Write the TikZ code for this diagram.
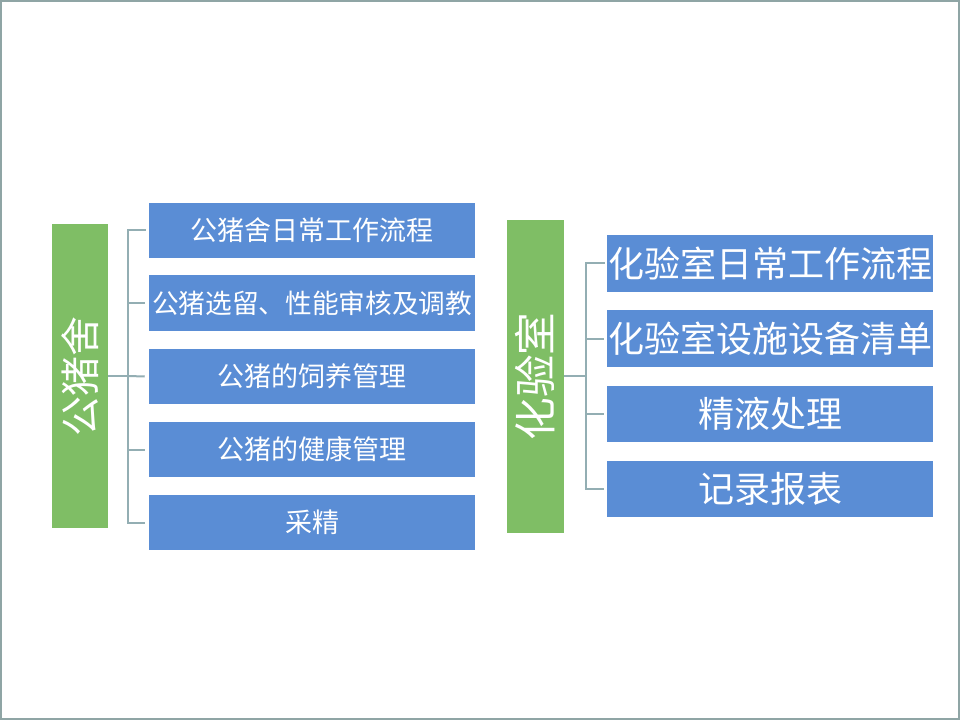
\documentclass[tikz,border=0pt]{standalone}
\usepackage{fontspec}
\newfontfamily\cjk{Noto Sans CJK SC}
\definecolor{boxblue}{HTML}{5A8DD5}
\definecolor{boxgreen}{HTML}{7FBE65}
\definecolor{linegray}{HTML}{93AEB3}
\definecolor{framegray}{HTML}{8FA5A5}
\begin{document}
\begin{tikzpicture}[x=0.75pt,y=-0.75pt,
  bluebox/.style={fill=boxblue,draw=none,inner sep=0pt,text=white,font=\cjk},
  greenbox/.style={fill=boxgreen,draw=none,inner sep=0pt,text=white,font=\cjk},
  conn/.style={draw=linegray,line width=1.5pt}]
\useasboundingbox (0,0) rectangle (960,720);
\draw[framegray,line width=1.5pt] (0.75,0.75) rectangle (959.25,719.25);
% left group
\node[greenbox,minimum width=42pt,minimum height=228pt] (g1) at (80,376) {\rotatebox{90}{\fontsize{30pt}{30pt}\selectfont 公猪舍}};
\node[bluebox,minimum width=244.5pt,minimum height=41.25pt] (l1) at (312,230.5) {\fontsize{20.25pt}{22pt}\selectfont 公猪舍日常工作流程};
\node[bluebox,minimum width=244.5pt,minimum height=41.25pt] (l2) at (312,303) {\makebox[240pt]{\fontsize{20pt}{22pt}\selectfont 公猪选留、性能审核及调教}};
\node[bluebox,minimum width=244.5pt,minimum height=41.25pt] (l3) at (312,376.5) {\fontsize{20.25pt}{22pt}\selectfont 公猪的饲养管理};
\node[bluebox,minimum width=244.5pt,minimum height=41.25pt] (l4) at (312,449.5) {\fontsize{20.25pt}{22pt}\selectfont 公猪的健康管理};
\node[bluebox,minimum width=244.5pt,minimum height=41.25pt] (l5) at (312,522.5) {\fontsize{20.25pt}{22pt}\selectfont 采精};
\coordinate (lt) at (128,376);
\draw[conn] (g1.east) -- (lt);
\draw[conn] (l1.west) ++(-3,0) -| (lt) |- ([xshift=-3]l5.west);
\draw[conn] (lt) |- ([xshift=-3]l2.west);
\draw[conn] (lt) |- ([xshift=-3]l4.west);
\draw[conn] (lt) -- ([xshift=-3]l3.west);
% right group
\node[greenbox,minimum width=42.75pt,minimum height=234.75pt] (g2) at (535.5,376.5) {\rotatebox{90}{\fontsize{32pt}{32pt}\selectfont 化验室}};
\node[bluebox,minimum width=244.5pt,minimum height=42.75pt] (r1) at (770,263.5) {\fontsize{27pt}{28pt}\selectfont 化验室日常工作流程};
\node[bluebox,minimum width=244.5pt,minimum height=42.75pt] (r2) at (770,338.5) {\fontsize{27pt}{28pt}\selectfont 化验室设施设备清单};
\node[bluebox,minimum width=244.5pt,minimum height=42pt] (r3) at (770,414) {\fontsize{27pt}{28pt}\selectfont 精液处理};
\node[bluebox,minimum width=244.5pt,minimum height=42pt] (r4) at (770,489) {\fontsize{27pt}{28pt}\selectfont 记录报表};
\coordinate (rt) at (586,376);
\draw[conn] (g2.east |- rt) -- (rt);
\draw[conn] (r1.west) ++(-2,0) -| (rt) |- ([xshift=-2]r4.west);
\draw[conn] (rt) |- ([xshift=-2]r2.west);
\draw[conn] (rt) |- ([xshift=-2]r3.west);
\end{tikzpicture}
\end{document}
